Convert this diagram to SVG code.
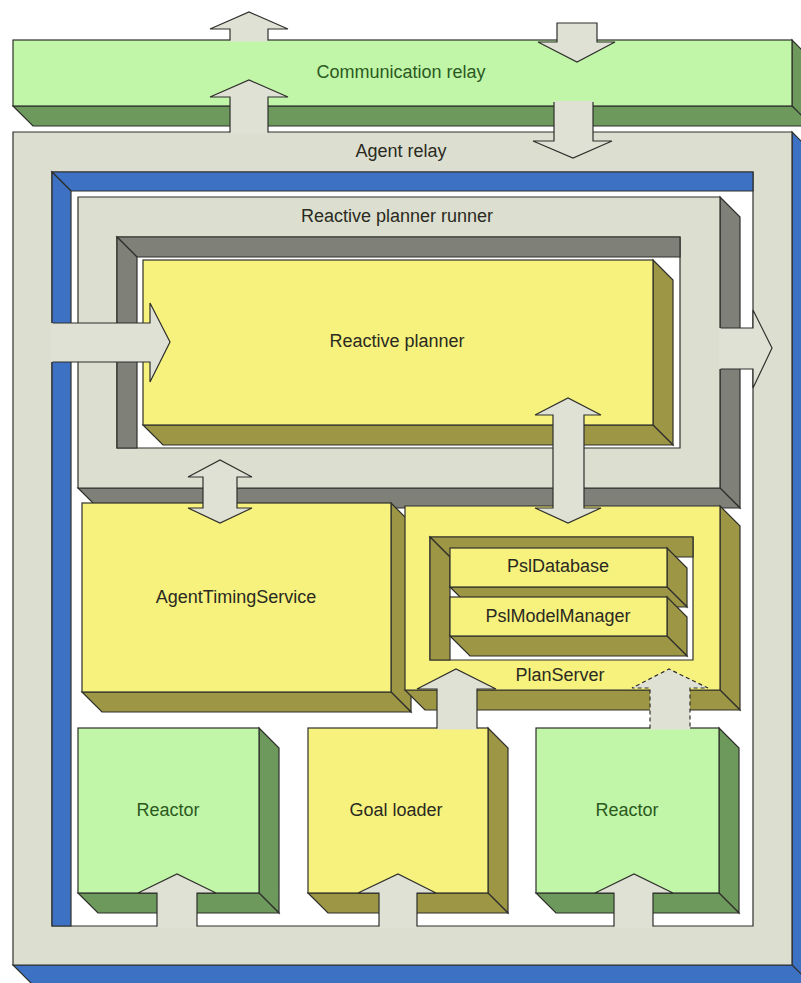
<svg xmlns="http://www.w3.org/2000/svg" width="801" height="983" viewBox="0 0 801 983">
  <style>
    .edge { stroke: #2f2f2c; stroke-width: 1.2; stroke-linejoin: miter; }
    .beige { fill: #dcdfcf; }
    .green { fill: #c1f5a8; }
    .greenS { fill: #6d9a5c; }
    .blue { fill: #3c71c4; }
    .gray { fill: #7f8179; }
    .yellow { fill: #f6f27d; }
    .olive { fill: #9c9645; }
    .af { fill: #dfe1d4; stroke: none; }
    .afe { fill: #dfe1d4; stroke: #2f2f2c; stroke-width: 1.2; stroke-linejoin: miter; }
    .as { fill: none; stroke: #2f2f2c; stroke-width: 1.2; stroke-linejoin: miter; }
    .dash { stroke-dasharray: 4 3; }
    text { font-family: "Liberation Sans", Arial, sans-serif; font-size: 18px; text-anchor: middle; fill: #2a2a22; }
    text.tg { fill: #2b5a1e; }
  </style>
  <rect width="801" height="983" fill="#ffffff"/>

  <!-- Outer communication layer -->
  <g id="communication-relay">
    <polygon class="greenS edge" points="792,40 812,60 812,126 792,106"/>
    <polygon class="greenS edge" points="13,106 792,106 812,126 33,126"/>
    <rect class="green edge" x="13" y="40" width="779" height="66"/>
    <text class="tg" x="401" y="78">Communication relay</text>
  </g>

  <!-- Agent relay: a raised frame with blue sides -->
  <g id="agent-relay">
    <polygon class="blue edge" points="792,132 812,152 812,985 792,965"/>
    <polygon class="blue edge" points="13,965 792,965 812,985 33,985"/>
    <path class="beige edge" fill-rule="evenodd" d="M13,132H792V965H13Z M52,172V926H753V172Z"/>
    <polygon class="blue edge" points="52,172 753,172 753,191 71,191"/>
    <polygon class="blue edge" points="52,172 71,191 71,926 52,926"/>
    <text x="401" y="157">Agent relay</text>
  </g>

  <!-- Reactive planner runner frame -->
  <g id="reactive-planner-runner">
    <polygon class="gray edge" points="720,197 740,217 740,508 720,488"/>
    <polygon class="gray edge" points="78,488 720,488 740,508 98,508"/>
    <path class="beige edge" fill-rule="evenodd" d="M78,197H720V488H78Z M117,237V448H680V237Z"/>
    <polygon class="gray edge" points="117,237 680,237 680,257 137,257"/>
    <polygon class="gray edge" points="117,237 137,257 137,448 117,448"/>
    <text x="397" y="222">Reactive planner runner</text>
  </g>

  <g id="reactive-planner">
    <polygon class="olive edge" points="653,260 673,280 673,445 653,425"/>
    <polygon class="olive edge" points="143,425 653,425 673,445 163,445"/>
    <rect class="yellow edge" x="143" y="260" width="510" height="165"/>
    <text x="397" y="347">Reactive planner</text>
  </g>

  <g id="agent-timing-service">
    <polygon class="olive edge" points="391,503 411,523 411,712 391,692"/>
    <polygon class="olive edge" points="82,692 391,692 411,712 102,712"/>
    <rect class="yellow edge" x="82" y="503" width="309" height="189"/>
    <text x="236" y="603">AgentTimingService</text>
  </g>

  <!-- PlanServer frame holding the database and model manager -->
  <g id="plan-server">
    <polygon class="olive edge" points="720,506 740,526 740,710 720,690"/>
    <polygon class="olive edge" points="405,690 720,690 740,710 425,710"/>
    <path class="yellow edge" fill-rule="evenodd" d="M405,506H720V690H405Z M430,537V660H693V537Z"/>
    <polygon class="olive edge" points="430,537 693,537 693,557 450,557"/>
    <polygon class="olive edge" points="430,537 450,557 450,660 430,660"/>
    <text x="560" y="681">PlanServer</text>
  </g>

  <g id="psl-database">
    <polygon class="olive edge" points="667,548 687,568 687,607 667,587"/>
    <polygon class="olive edge" points="450,587 667,587 687,607 470,607"/>
    <rect class="yellow edge" x="450" y="548" width="217" height="39"/>
    <text x="558" y="572">PslDatabase</text>
  </g>

  <g id="psl-model-manager">
    <polygon class="olive edge" points="667,597 687,617 687,656 667,636"/>
    <polygon class="olive edge" points="450,636 667,636 687,656 470,656"/>
    <rect class="yellow edge" x="450" y="597" width="217" height="39"/>
    <text x="558" y="622">PslModelManager</text>
  </g>

  <g id="reactor-1">
    <polygon class="greenS edge" points="259,728 279,748 279,913 259,893"/>
    <polygon class="greenS edge" points="78,893 259,893 279,913 98,913"/>
    <rect class="green edge" x="78" y="728" width="181" height="165"/>
    <text class="tg" x="168" y="816">Reactor</text>
  </g>

  <g id="goal-loader">
    <polygon class="olive edge" points="488,728 508,748 508,913 488,893"/>
    <polygon class="olive edge" points="308,893 488,893 508,913 328,913"/>
    <rect class="yellow edge" x="308" y="728" width="180" height="165"/>
    <text x="396" y="816">Goal loader</text>
  </g>

  <g id="reactor-2">
    <polygon class="greenS edge" points="719,728 739,748 739,913 719,893"/>
    <polygon class="greenS edge" points="536,893 719,893 739,913 556,913"/>
    <rect class="green edge" x="536" y="728" width="183" height="165"/>
    <text class="tg" x="627" y="816">Reactor</text>
  </g>

  <!-- Block arrows; open tails merge into the frame they leave -->
  <g id="connectors">
    <!-- outbound, above the communication relay -->
    <polygon class="af" points="230,41.5 230,29 210,29 249,12 288,29 268,29 268,41.5"/>
    <polyline class="as" points="230,40.6 230,29 210,29 249,12 288,29 268,29 268,40.6"/>
    <!-- agent relay up to communication relay -->
    <polygon class="af" points="230,133.5 230,97 210,97 249,80 288,97 268,97 268,133.5"/>
    <polyline class="as" points="230,132.6 230,97 210,97 249,80 288,97 268,97 268,132.6"/>
    <!-- inbound, into the communication relay -->
    <polygon class="afe" points="557,23 597,23 597,42 615,42 577,62 538,42 557,42"/>
    <!-- communication relay down to agent relay -->
    <polygon class="af" points="554,101 593,101 593,141 612,141 573,158 533,141 554,141"/>
    <polyline class="as" points="554,102 554,141 533,141 573,158 612,141 593,141 593,102"/>
    <!-- agent relay into the reactive planner -->
    <polygon class="af" points="51,323 150,323 150,303 170,342 150,382 150,362 51,362"/>
    <polyline class="as" points="52.6,323 150,323 150,303 170,342 150,382 150,362 52.6,362"/>
    <!-- runner out to agent relay -->
    <polygon class="af" points="719,328 753,328 753,310 772,348 753,388 753,369 719,369"/>
    <polyline class="as" points="720.6,328 753,328 753,310 772,348 753,388 753,369 720.6,369"/>
    <!-- runner <-> AgentTimingService -->
    <polygon class="afe" points="203,477 188,477 220,460 252,477 237,477 237,508 252,508 220,523 188,508 203,508"/>
    <!-- reactive planner <-> PlanServer -->
    <polygon class="afe" points="553,415 535,415 568,398 601,415 584,415 584,508 601,508 568,523 535,508 553,508"/>
    <!-- goal loader up to PlanServer -->
    <polygon class="af" points="437,729.5 437,689 417,689 456,669 496,689 477,689 477,729.5"/>
    <polyline class="as" points="437,728.6 437,689 417,689 456,669 496,689 477,689 477,728.6"/>
    <!-- reactor up to PlanServer (optional link) -->
    <polygon class="af" points="650,729.5 650,688 632,688 669,669 708,688 690,688 690,729.5"/>
    <polyline class="as dash" points="650,728.6 650,688 632,688 669,669 708,688 690,688 690,728.6"/>
    <!-- agent relay up into the bottom components -->
    <polygon class="af" points="157,927.5 157,893 138,893 177,874 216,893 197,893 197,927.5"/>
    <polyline class="as" points="157,926.6 157,893 138,893 177,874 216,893 197,893 197,926.6"/>
    <polygon class="af" points="379,927.5 379,893 358,893 398,874 436,893 417,893 417,927.5"/>
    <polyline class="as" points="379,926.6 379,893 358,893 398,874 436,893 417,893 417,926.6"/>
    <polygon class="af" points="614,927.5 614,893 595,893 634,874 673,893 653,893 653,927.5"/>
    <polyline class="as" points="614,926.6 614,893 595,893 634,874 673,893 653,893 653,926.6"/>
  </g>
</svg>
